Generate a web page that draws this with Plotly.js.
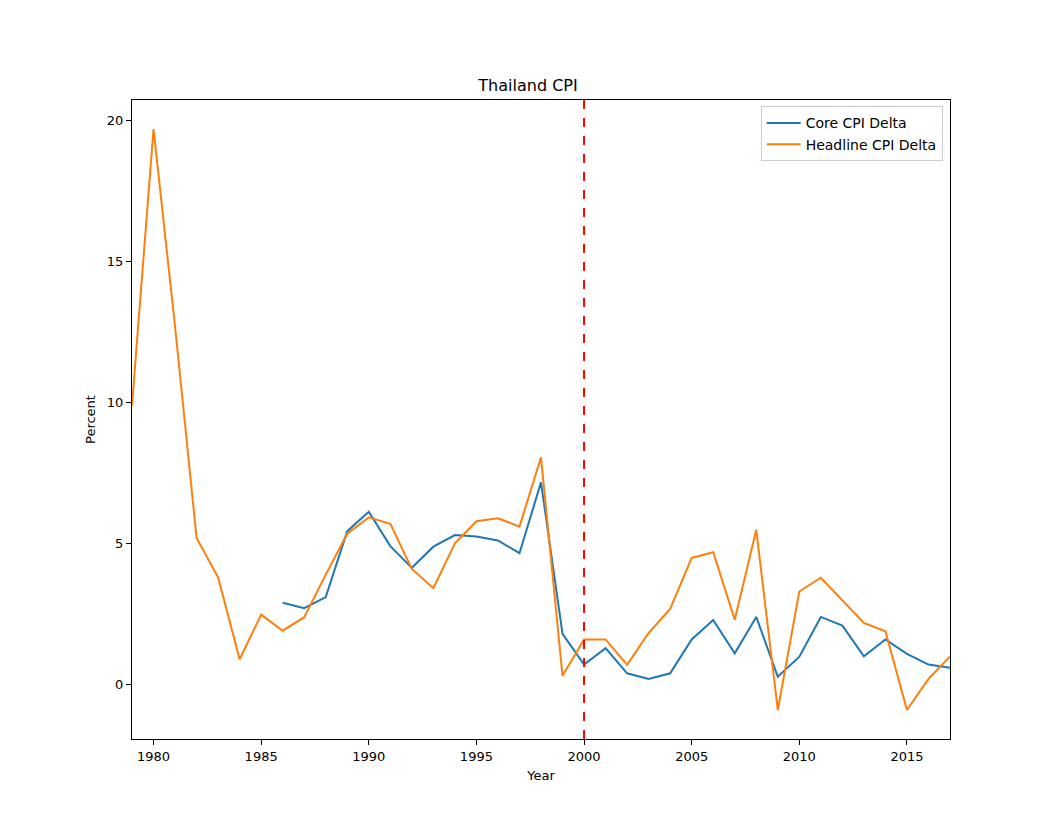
<!DOCTYPE html>
<html>
<head>
<meta charset="utf-8">
<script src="https://cdn.plot.ly/plotly-3.0.1.min.js"></script>
<style>body{margin:0;padding:0;background:#fff}#chart{width:1056px;height:830px}</style>
</head>
<body>
<div id="chart"></div>
<script>
const headlineYears = [1979,1980,1981,1982,1983,1984,1985,1986,1987,1988,1989,1990,1991,1992,1993,1994,1995,1996,1997,1998,1999,2000,2001,2002,2003,2004,2005,2006,2007,2008,2009,2010,2011,2012,2013,2014,2015,2016,2017];
const headlineValues = [9.9,19.7,12.7,5.2,3.8,0.9,2.48,1.91,2.39,3.9,5.35,5.93,5.7,4.1,3.42,5.01,5.79,5.9,5.6,8.06,0.31,1.6,1.6,0.7,1.83,2.68,4.49,4.69,2.3,5.49,-0.9,3.3,3.79,2.98,2.19,1.89,-0.9,0.2,1.0];
const coreYears = [1986,1987,1988,1989,1990,1991,1992,1993,1994,1995,1996,1997,1998,1999,2000,2001,2002,2003,2004,2005,2006,2007,2008,2009,2010,2011,2012,2013,2014,2015,2016,2017];
const coreValues = [2.9,2.71,3.1,5.44,6.13,4.91,4.14,4.89,5.3,5.25,5.11,4.66,7.17,1.8,0.71,1.29,0.4,0.2,0.4,1.6,2.29,1.11,2.4,0.28,0.99,2.4,2.09,1.0,1.6,1.09,0.71,0.6];
const markerYear = 2000;
const xTicks = [1980,1985,1990,1995,2000,2005,2010,2015];
const yTicks = [0,5,10,15,20];

const font = {family: 'DejaVu Sans, sans-serif', size: 13, color: '#000'};
const traces = [
  {x: coreYears, y: coreValues, type: 'scatter', mode: 'lines', name: 'Core CPI Delta', line: {color: '#1f77b4', width: 2}},
  {x: headlineYears, y: headlineValues, type: 'scatter', mode: 'lines', name: 'Headline CPI Delta', line: {color: '#ff7f0e', width: 2}}
];
const layout = {
  width: 1056, height: 830,
  margin: {l: 132, r: 106, t: 100, b: 91},
  paper_bgcolor: '#fff', plot_bgcolor: '#fff',
  font: font,
  title: {text: 'Thailand CPI', font: {family: 'DejaVu Sans, sans-serif', size: 16, color: '#000'}, x: 0.5, xanchor: 'center', y: 1 - 85/830, yanchor: 'middle'},
  xaxis: {
    range: [1979, 2017], tickvals: xTicks, ticktext: xTicks.map(String),
    showgrid: false, zeroline: false, showline: true, mirror: true, linecolor: '#000', linewidth: 1,
    ticks: 'outside', ticklen: 5, tickcolor: '#000',
    title: {text: 'Year', font: font, standoff: 8}
  },
  yaxis: {
    range: [-1.93, 20.73], tickvals: yTicks, ticktext: yTicks.map(String),
    showgrid: false, zeroline: false, showline: true, mirror: true, linecolor: '#000', linewidth: 1,
    ticks: 'outside', ticklen: 5, tickcolor: '#000',
    title: {text: 'Percent', font: font, standoff: 8}
  },
  shapes: [{type: 'line', xref: 'x', yref: 'paper', x0: markerYear, x1: markerYear, y0: 0, y1: 1, line: {color: 'red', width: 2, dash: 'dash'}}],
  legend: {x: 0.991, xanchor: 'right', y: 0.99, yanchor: 'top', bgcolor: 'rgba(255,255,255,0.8)', bordercolor: '#ccc', borderwidth: 1, font: {family: 'DejaVu Sans, sans-serif', size: 14, color: '#000'}, itemwidth: 34, tracegroupgap: 0},
  showlegend: true
};
Plotly.newPlot('chart', traces, layout, {displayModeBar: false, staticPlot: true});
</script>
</body>
</html>
